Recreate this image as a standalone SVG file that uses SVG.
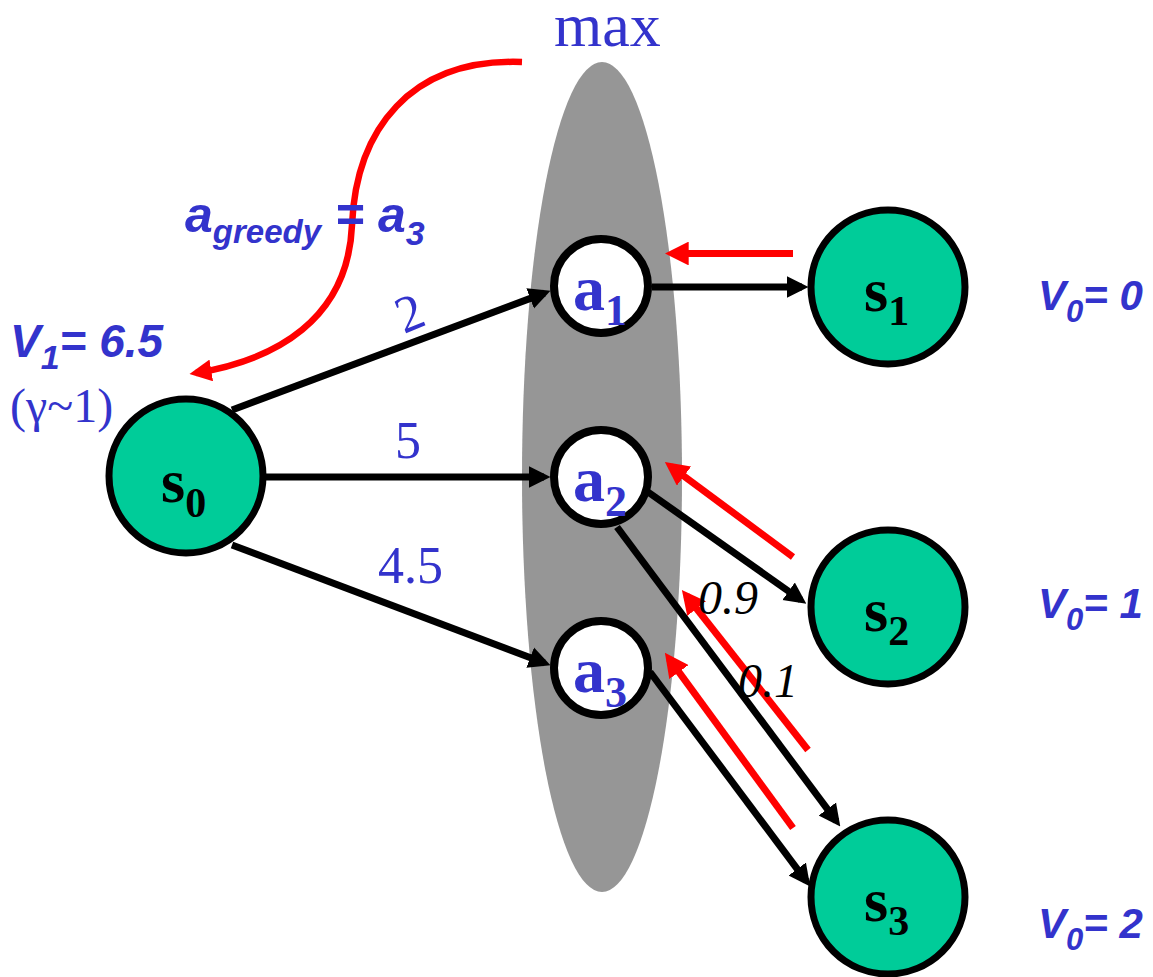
<svg xmlns="http://www.w3.org/2000/svg" width="1153" height="977" viewBox="0 0 1153 977">
<defs>
<marker id="bk" viewBox="0 0 10 10" refX="7" refY="5" markerWidth="3.1" markerHeight="3.3" orient="auto" markerUnits="strokeWidth"><path d="M0,0 L10,5 L0,10 z" fill="#000"/></marker>
<marker id="rd" viewBox="0 0 10 10" refX="7" refY="5" markerWidth="3.4" markerHeight="3.4" orient="auto" markerUnits="strokeWidth"><path d="M0,0 L10,5 L0,10 z" fill="#f00"/></marker>
<style>
.st{fill:#00cc99;stroke:#000;stroke-width:7}
.ac{fill:#fff;stroke:#000;stroke-width:8}
.blk{stroke:#000;stroke-width:7;fill:none;marker-end:url(#bk)}
.red{stroke:#f00;stroke-width:7;fill:none;marker-end:url(#rd)}
.sl{font-family:"Liberation Serif",serif;font-weight:bold;font-size:62px;fill:#000}
.al{font-family:"Liberation Serif",serif;font-weight:bold;font-size:64px;fill:#3333cc}
.w{font-family:"Liberation Serif",serif;fill:#3333cc}
.p{font-family:"Liberation Serif",serif;font-style:italic;font-size:48px;fill:#000}
.v{font-family:"Liberation Sans",Arial,sans-serif;font-weight:bold;font-style:italic;fill:#3333cc}
</style>
</defs>
<ellipse cx="602" cy="477" rx="80" ry="415" fill="#969696"/>
<g id="connectors">
<line class="blk" x1="232" y1="410" x2="544.4" y2="293.1"/>
<line class="blk" x1="266" y1="477" x2="544" y2="477"/>
<line class="blk" x1="232" y1="545" x2="544.4" y2="662.9"/>
<line class="blk" x1="652" y1="287" x2="802" y2="287"/>
<line class="blk" x1="648" y1="492" x2="801" y2="600"/>
<line class="blk" x1="617" y1="527" x2="836.4" y2="821.2"/>
<line class="blk" x1="650" y1="672" x2="806.3" y2="881.2"/>
<line class="red" x1="793" y1="253.5" x2="672" y2="253.5"/>
<line class="red" x1="793" y1="557" x2="670.6" y2="466.2"/>
<line class="red" x1="808" y1="750" x2="686.3" y2="595.5"/>
<line class="red" x1="793" y1="828" x2="669.1" y2="658.6"/>
<path class="red" style="stroke-width:6.5" d="M522,62 C410,58 356,130 352,225 C348,320 275,360 196,373"/>
</g>
<g id="s0"><circle class="st" cx="186" cy="476" r="77"/><text class="sl" x="161" y="502">s<tspan style="font-size:42px" dy="15">0</tspan></text></g>
<g id="s1"><circle class="st" cx="888" cy="287" r="77"/><text class="sl" x="864" y="311">s<tspan style="font-size:42px" dy="14">1</tspan></text></g>
<g id="s2"><circle class="st" cx="888" cy="607" r="77"/><text class="sl" x="864" y="631">s<tspan style="font-size:42px" dy="14">2</tspan></text></g>
<g id="s3"><circle class="st" cx="888" cy="897" r="77"/><text class="sl" x="864" y="921">s<tspan style="font-size:42px" dy="14">3</tspan></text></g>
<g id="a1"><circle class="ac" cx="601" cy="286" r="47"/><text class="al" x="573" y="310">a<tspan style="font-size:44px" dy="15">1</tspan></text></g>
<g id="a2"><circle class="ac" cx="601" cy="477" r="47"/><text class="al" x="573" y="501">a<tspan style="font-size:44px" dy="15">2</tspan></text></g>
<g id="a3"><circle class="ac" cx="601" cy="668" r="47"/><text class="al" x="573" y="692">a<tspan style="font-size:44px" dy="15">3</tspan></text></g>
<text class="w" x="554" y="46" style="font-size:62px">max</text>
<text class="w" transform="translate(404,334) rotate(-22)" style="font-size:52px">2</text>
<text class="w" x="395" y="458" style="font-size:52px">5</text>
<text class="w" x="378" y="583" style="font-size:52px">4.5</text>
<text class="p" x="698" y="614">0.9</text>
<text class="p" x="738" y="697">0.1</text>
<text class="v" x="185" y="232" style="font-size:50px">a<tspan style="font-size:33px" dy="11">greedy</tspan><tspan dy="-11"> = a</tspan><tspan style="font-size:34px" dy="13">3</tspan></text>
<text class="v" x="10" y="357" style="font-size:46px">V<tspan style="font-size:34px" dy="12">1</tspan><tspan dy="-12">= 6.5</tspan></text>
<text class="w" x="10" y="422" style="font-size:48px">(γ~1)</text>
<text class="v" x="1038" y="310" style="font-size:42px">V<tspan style="font-size:31px" dy="12">0</tspan><tspan dy="-12">= 0</tspan></text>
<text class="v" x="1038" y="618" style="font-size:42px">V<tspan style="font-size:31px" dy="12">0</tspan><tspan dy="-12">= 1</tspan></text>
<text class="v" x="1038" y="938" style="font-size:42px">V<tspan style="font-size:31px" dy="12">0</tspan><tspan dy="-12">= 2</tspan></text>
</svg>
